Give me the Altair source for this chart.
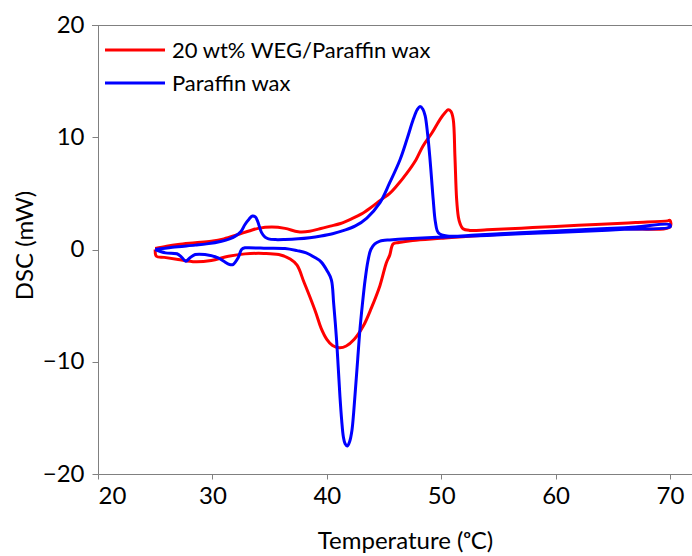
import altair as alt
import pandas as pd

series_names = ["20 wt% WEG/Paraffin wax", "Paraffin wax"]
series_colors = ["#FF0000", "#0000FF"]

# 20 wt% WEG/Paraffin wax - heating branch (25 -> 70 C)
weg_heat_t = [25, 26, 27, 28.5, 29.9, 31, 32.25, 33.2, 34.0, 35.2, 36.35, 37.5, 38.5, 39.4,
              40.3, 41.2, 42.2, 43.0, 43.8, 44.7, 45.5, 46.1, 47.0, 47.8, 48.4, 49.2, 49.9,
              50.35, 50.6, 50.85, 51.05, 51.2, 51.35, 51.5, 51.65, 51.9, 52.5, 54, 57, 60,
              64, 67, 69.8, 70]
weg_heat_dsc = [0.1, 0.3, 0.45, 0.6, 0.74, 0.95, 1.34, 1.65, 1.88, 2.0, 1.88, 1.58, 1.62, 1.85,
                2.08, 2.32, 2.75, 3.15, 3.7, 4.4, 5.0, 5.65, 6.8, 8.0, 9.2, 10.4, 11.6,
                12.2, 12.44, 12.3, 11.6, 8.3, 4.46, 2.9, 2.3, 1.85, 1.7, 1.75, 1.9, 2.05,
                2.25, 2.4, 2.55, 2.6]
# 20 wt% WEG/Paraffin wax - cooling branch (70 -> 25 C)
weg_cool_t = [70, 66, 62, 58, 54, 50, 47.5, 46.3, 45.8, 45.5, 45.2, 44.65, 43.9, 43.2, 42.4,
              41.7, 41.1, 40.5, 40.0, 39.5, 39.05, 38.5, 38.0, 37.4, 36.8, 35.8, 34.5, 32.85,
              31.4, 29.9, 28.5, 27.0, 25.8, 25.1, 25.0]
weg_cool_dsc = [2.0, 1.85, 1.67, 1.5, 1.3, 1.0, 0.8, 0.62, 0.5, -0.5, -1.2, -3.2, -5.2, -6.8,
                -8.0, -8.6, -8.75, -8.55, -8.0, -7.0, -5.65, -4.17, -2.9, -1.4, -0.85, -0.45,
                -0.35, -0.39, -0.6, -0.98, -1.1, -0.89, -0.7, -0.6, 0.0]

# Paraffin wax - heating branch
pw_heat_t = [25, 26.5, 28.5, 29.5, 30.8, 31.5, 32.0, 32.5, 32.85, 33.2, 33.5, 33.75, 33.95,
             34.3, 34.6, 34.9, 35.5, 36.35, 37.5, 38.5, 39.5, 40.5, 41.5, 42.5, 43.5, 44.65,
             45.5, 46.4, 47.0, 47.56, 47.9, 48.15, 48.4, 48.6, 48.8, 49.0, 49.15, 49.3,
             49.5, 49.75, 50.5, 53, 56, 60, 64, 67, 70]
pw_heat_dsc = [0.0, 0.2, 0.39, 0.5, 0.74, 0.95, 1.19, 1.6, 2.23, 2.7, 2.98, 2.9, 2.53,
               1.5, 1.1, 0.95, 0.88, 0.89, 0.95, 1.05, 1.2, 1.4, 1.7, 2.1, 2.8, 4.17,
               5.95, 8.0, 9.8, 11.6, 12.45, 12.74, 12.5, 11.9, 10.4, 8.3, 6.4, 4.46,
               2.4, 1.5, 1.2, 1.3, 1.45, 1.65, 1.85, 2.0, 2.2]
# Paraffin wax - cooling branch
pw_cool_t = [70, 66, 62, 58, 54, 50, 47, 45.5, 44.9, 44.65, 44.2, 43.85, 43.6, 43.35, 43.1,
             42.9, 42.7, 42.5, 42.35, 42.2, 42.0, 41.8, 41.6, 41.45, 41.3, 41.15, 41.0, 40.85,
             40.6, 40.4, 40.05, 39.5, 39.0, 38.2, 37.4, 36.35, 34.5, 33.2, 32.85, 32.55,
             32.25, 31.8, 31.5, 31.0, 30.5, 29.35, 28.5, 28.04, 27.67, 27.3, 26.9, 25.9, 25.0]
pw_cool_dsc = [2.0, 1.8, 1.6, 1.45, 1.25, 1.1, 0.95, 0.85, 0.8, 0.74, 0.5, 0.0, -1.0, -2.7,
               -5.0, -7.1, -9.8, -12.5, -14.5, -16.1, -17.1, -17.5, -17.3, -16.7, -15.2,
               -13.1, -10.5, -8.0, -4.8, -2.7, -1.93, -1.1, -0.74, -0.3, -0.1, 0.09, 0.12,
               0.15, 0.15, 0.0, -0.74, -1.34, -1.34, -1.05, -0.74, -0.45, -0.45, -0.74,
               -1.04, -0.68, -0.38, -0.3, 0.0]

x_ticks = [20, 30, 40, 50, 60, 70]
y_ticks = [-20, -10, 0, 10, 20]

FONT = "Lato"
AXIS_GRAY = "#808080"
W, H = 594, 449


def loop_df(t_heat, d_heat, t_cool, d_cool):
    t = list(t_heat) + list(t_cool)
    d = list(d_heat) + list(d_cool)
    return pd.DataFrame({"T": t, "DSC": d, "i": list(range(len(t)))})


x_scale = alt.Scale(domain=[20, 20 + W / 11.44], nice=False, zero=False)
y_scale = alt.Scale(domain=[-20, 20], nice=False, zero=False)

x_axis = alt.Axis(values=x_ticks, title="Temperature (ᵒC)", grid=False,
                  domainColor=AXIS_GRAY, tickColor=AXIS_GRAY, tickSize=5,
                  labelPadding=5, labelFontSize=24, labelColor="black", labelFont=FONT,
                  titleFont=FONT, titleFontSize=24, titleFontWeight="normal",
                  titleColor="black", titleX=307, titleY=74, titleBaseline="alphabetic",
                  titleAlign="center")
y_axis = alt.Axis(values=y_ticks, title="DSC (mW)", grid=False,
                  domainColor=AXIS_GRAY, tickColor=AXIS_GRAY, tickSize=6,
                  labelPadding=8, labelFontSize=24, labelColor="black", labelFont=FONT,
                  titleFont=FONT, titleFontSize=24, titleFontWeight="normal",
                  titleColor="black", titleAngle=270, titleX=-73, titleY=220,
                  titleAlign="center", titleBaseline="middle")


def loop_chart(df, color):
    return alt.Chart(df).mark_line(color=color, strokeWidth=3, interpolate="catmull-rom",
                                   clip=True).encode(
        x=alt.X("T:Q", scale=x_scale, axis=x_axis),
        y=alt.Y("DSC:Q", scale=y_scale, axis=y_axis),
        order="i:Q",
    )


weg_df = loop_df(weg_heat_t, weg_heat_dsc, weg_cool_t, weg_cool_dsc)
pw_df = loop_df(pw_heat_t, pw_heat_dsc, pw_cool_t, pw_cool_dsc)

red = loop_chart(weg_df, series_colors[0])
blue = loop_chart(pw_df, series_colors[1])

legend_df = pd.DataFrame({"name": series_names})
top_line = alt.Chart(legend_df).mark_rule(color=AXIS_GRAY, strokeWidth=1).encode(
    x=alt.value(-6), x2=alt.value(W), y=alt.value(0.5))

legend_layers = []
legend_rows = [25, 58]
for k in range(2):
    row = alt.Chart(legend_df).transform_filter(alt.datum.name == series_names[k])
    legend_layers.append(row.mark_rule(color=series_colors[k], strokeWidth=3).encode(
        x=alt.value(7), x2=alt.value(67), y=alt.value(legend_rows[k])))
    legend_layers.append(row.mark_text(align="left", baseline="middle", font=FONT,
                                       fontSize=22, color="black").encode(
        x=alt.value(74), y=alt.value(legend_rows[k] + 1), text="name:N"))

chart = alt.layer(red, blue, top_line, *legend_layers).properties(
    width=W, height=H,
    autosize=alt.AutoSizeParams(type="none"),
    padding={"left": 98, "top": 25, "right": 0, "bottom": 82},
).configure(background="white").configure_view(stroke=None)

chart.save("out.html", embed_options={"renderer": "svg", "actions": False})
